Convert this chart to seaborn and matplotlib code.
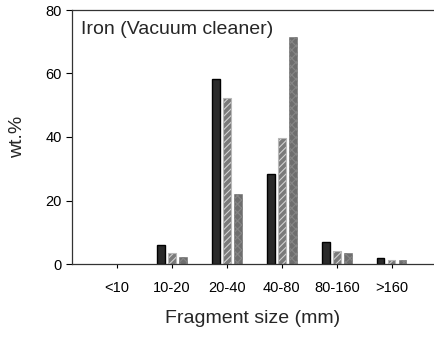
import matplotlib
matplotlib.use("Agg")
import matplotlib.pyplot as plt
import seaborn as sns
import pandas as pd

categories = ["<10", "10-20", "20-40", "40-80", "80-160", ">160"]
series_names = ["Series 1", "Series 2", "Series 3"]
series1 = [0.0, 5.9, 58.2, 28.3, 6.9, 1.8]
series2 = [0.0, 3.5, 52.2, 39.6, 4.2, 1.2]
series3 = [0.0, 2.3, 22.0, 71.5, 3.4, 1.4]
yticks = [0, 20, 40, 60, 80]

sns.set_style("ticks")
plt.rcParams['font.family'] = ['Liberation Sans', 'DejaVu Sans']
plt.rcParams['hatch.linewidth'] = 0.8

rows = []
for name, vals in zip(series_names, [series1, series2, series3]):
    for c, v in zip(categories, vals):
        rows.append({"size": c, "series": name, "wt": v})
df = pd.DataFrame(rows)

fig = plt.figure(figsize=(4.34, 3.4), dpi=100)
ax = fig.add_axes([72/434, (340-264)/340, (433-72)/434, (264-10)/340])

palette = {"Series 1": "#2a2a2a", "Series 2": "#7a7a7a", "Series 3": "#6e6e6e"}
sns.barplot(data=df, x="size", y="wt", hue="series", order=categories,
            hue_order=series_names, palette=palette, width=0.6, gap=0.33,
            legend=False, ax=ax, saturation=1)

styles = [("#000000", None, 1.0), ("#b8b8b8", "/////", 0.8), ("#6e6e6e", "xxxx", 0.4)]
hatch_colors = [None, "#d0d0d0", "#858585"]
for cont, (ec, hatch, lw), hc in zip(ax.containers, styles, hatch_colors):
    for p in cont:
        p.set_edgecolor(ec)
        p.set_linewidth(lw)
        if hatch:
            p.set_hatch(hatch)
            p._hatch_color = matplotlib.colors.to_rgba(hc)
        if p.get_height() == 0:
            p.set_visible(False)

ax.set_ylim(0, 80)
ax.set_xlim(-0.82, 5.75)
ax.set_yticks(yticks)
ax.tick_params(axis='both', labelsize=10.5, colors="#000000", length=4, width=0.8)
ax.tick_params(axis='x', length=3, pad=9)
ax.set_xlabel("Fragment size (mm)", fontsize=14, labelpad=11)
ax.set_ylabel("wt.%", fontsize=14, labelpad=14)
for s in ["left", "bottom", "top"]:
    ax.spines[s].set_color("#333333")
    ax.spines[s].set_linewidth(0.9)
ax.spines["right"].set_visible(False)
ax.text(0.024, 0.923, "Iron (Vacuum cleaner)", transform=ax.transAxes,
        fontsize=14, va="center", ha="left")

fig.savefig("out.png", dpi=100)
